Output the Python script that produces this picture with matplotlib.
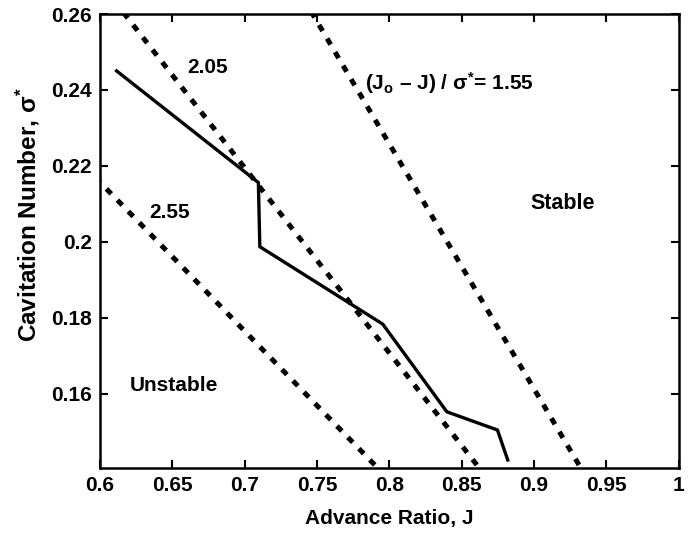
import numpy as np
import matplotlib
matplotlib.use("Agg")
import matplotlib.pyplot as plt

plt.rcParams["font.family"] = ["Liberation Sans", "DejaVu Sans"]
plt.rcParams["font.weight"] = "bold"
plt.rcParams["mathtext.fontset"] = "custom"
plt.rcParams["mathtext.rm"] = "Liberation Sans:bold"
plt.rcParams["mathtext.it"] = "Liberation Sans"
plt.rcParams["mathtext.bf"] = "Liberation Sans:bold"

# measured stability boundary
J_meas = [0.6115, 0.7095, 0.7105, 0.7955, 0.8398, 0.8748, 0.8819]
sigma_meas = [0.2450, 0.2156, 0.1987, 0.1783, 0.1552, 0.1504, 0.1425]

# constant (Jo - J)/sigma* lines
J_o = 1.15
k_values = [1.55, 2.05, 2.55]
sigma_range = [0.1412, 0.27]

xticks = [0.6, 0.65, 0.7, 0.75, 0.8, 0.85, 0.9, 0.95, 1.0]
xticklabels = ["0.6", "0.65", "0.7", "0.75", "0.8", "0.85", "0.9", "0.95", "1"]
yticks = [0.16, 0.18, 0.2, 0.22, 0.24, 0.26]
yticklabels = ["0.16", "0.18", "0.2", "0.22", "0.24", "0.26"]

FS = 15


def main():
    fig = plt.figure(figsize=(6.91, 5.33), dpi=100)
    ax = fig.add_axes([0.1447, 0.122, 0.8373, 0.8517])

    s = np.array(sigma_range)
    for k in k_values:
        ax.plot(J_o - k * s, s, color="black", lw=3.6,
                linestyle=(0, (1.4, 1.75)), dash_capstyle="butt")

    ax.plot(J_meas, sigma_meas, color="black", lw=2.4)

    ax.text(0.6747, 0.2458, "2.05", ha="center", va="center", fontsize=FS, fontweight="bold")
    ax.text(0.6484, 0.2078, "2.55", ha="center", va="center", fontsize=FS, fontweight="bold")
    ax.text(0.7835, 0.2418, r"(J$_{\rm o}$ – J) / $\sigma^{*}$= 1.55", ha="left", va="center",
            fontsize=FS, fontweight="bold")
    ax.text(0.920, 0.2100, "Stable", ha="center", va="center", fontsize=FS + 0.5, fontweight="bold")
    ax.text(0.6508, 0.1620, "Unstable", ha="center", va="center", fontsize=FS, fontweight="bold")

    ax.set_xlim(0.6, 1.0)
    ax.set_ylim(0.1404, 0.26)
    ax.set_xticks(xticks)
    ax.set_xticklabels(xticklabels)
    ax.set_yticks(yticks)
    ax.set_yticklabels(yticklabels)
    ax.tick_params(direction="in", length=6, width=1.5, top=True, right=True,
                   labelsize=FS, pad=6)
    for lab in ax.get_xticklabels() + ax.get_yticklabels():
        lab.set_fontweight("bold")
    for sp in ax.spines.values():
        sp.set_linewidth(1.8)

    ax.set_xlabel("Advance Ratio, J", fontsize=FS, fontweight="bold", labelpad=10)
    ax.set_ylabel(r"Cavitation Number, $\sigma^{*}$", fontsize=17.5, fontweight="bold")
    ax.yaxis.set_label_coords(-0.100, 0.559)

    fig.savefig("out.png", dpi=100)
    plt.close(fig)


if __name__ == "__main__":
    main()
